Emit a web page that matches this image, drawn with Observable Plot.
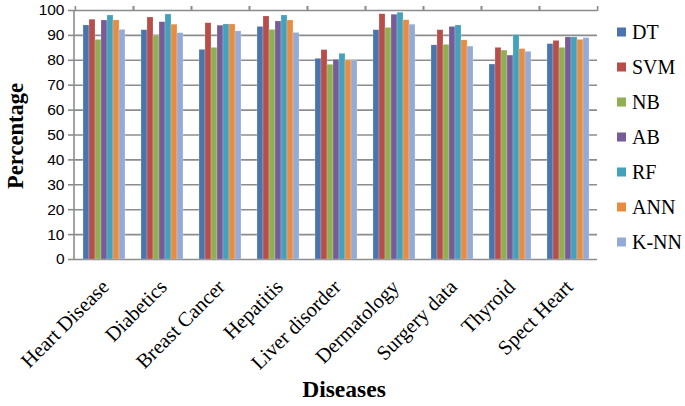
<!DOCTYPE html>
<html>
<head>
<meta charset="utf-8">
<script src="https://cdn.jsdelivr.net/npm/d3@7"></script>
<script src="https://cdn.jsdelivr.net/npm/@observablehq/plot@0.6"></script>
<style>
  html, body { margin: 0; padding: 0; background: #fff; }
  #wrap { position: relative; width: 685px; height: 406px; overflow: hidden; }
  #wrap svg { position: absolute; left: 0; top: 0; }
  .ytitle { position: absolute; left: 16px; top: 136px; transform: translate(-50%, -50%) rotate(-90deg);
            font: bold 22.5px "Liberation Serif", serif; white-space: nowrap; color: #000; }
  .xtitle { position: absolute; left: 344px; top: 389px; transform: translate(-50%, -50%);
            font: bold 23.5px "Liberation Serif", serif; white-space: nowrap; color: #000; }
  .legend { position: absolute; left: 617px; top: 0; font: 20px "Liberation Serif", serif; color: #000; }
  .legend .item { position: absolute; left: 0; display: flex; align-items: center; white-space: nowrap; transform: translateY(-50%); }
  .legend .sw { width: 9px; height: 9px; margin-right: 6px; }
</style>
</head>
<body>
<div id="wrap"></div>
<script>
const diseases = ["Heart Disease", "Diabetics", "Breast Cancer", "Hepatitis", "Liver disorder",
                  "Dermatology", "Surgery data", "Thyroid", "Spect Heart"];
const models = ["DT", "SVM", "NB", "AB", "RF", "ANN", "K-NN"];
const colors = ["#4A74AE", "#B84D4A", "#90AE52", "#775C99", "#42A1BB", "#E98B40", "#93ABD6"];

const dt  = [94.0, 92.1, 84.2, 93.4, 80.6, 92.1, 86.0, 78.3, 86.5];
const svm = [96.3, 97.2, 94.9, 97.6, 84.1, 98.5, 92.1, 85.0, 87.8];
const nb  = [88.2, 89.8, 85.0, 92.2, 78.2, 93.0, 86.2, 83.9, 85.0];
const ab  = [96.0, 95.3, 93.9, 95.6, 80.2, 98.3, 93.4, 81.9, 89.2];
const rf  = [98.0, 98.4, 94.4, 98.0, 82.6, 99.1, 94.0, 90.1, 89.2];
const ann = [96.0, 94.3, 94.4, 96.0, 79.9, 96.1, 88.0, 84.5, 88.2];
const knn = [92.2, 90.9, 91.6, 91.0, 79.9, 94.3, 85.5, 83.4, 88.9];
const yTicks = [0, 10, 20, 30, 40, 50, 60, 70, 80, 90, 100];

const series = [dt, svm, nb, ab, rf, ann, knn];
const data = [];
diseases.forEach((d, i) => models.forEach((m, j) => data.push({disease: d, model: m, value: series[j][i]})));

const W = 685, H = 406, mL = 74, mR = 87, mT = 10, mB = 147;
const step = (W - mL - mR) / diseases.length;
const grid = "#8c8c8c";

const chart = Plot.plot({
  width: W, height: H,
  marginLeft: mL, marginRight: mR, marginTop: mT, marginBottom: mB,
  style: {background: "transparent", overflow: "visible"},
  fx: {domain: diseases, padding: 0},
  x: {domain: models, paddingInner: 0, paddingOuter: 0.74, axis: null},
  y: {domain: [0, 100], axis: null},
  color: {domain: models, range: colors},
  marks: [
    Plot.ruleY(yTicks, {stroke: grid, strokeWidth: 1.6}),
    Plot.barY(data, {fx: "disease", x: "model", y: "value", fill: "model",
                     stroke: "#ffffff", strokeOpacity: 0.35, strokeWidth: 0.6}),
    Plot.axisY({ticks: yTicks, tickSize: 7, tickPadding: 4, stroke: grid, strokeWidth: 1.6,
                fontSize: 15.5, fontFamily: "Liberation Sans, sans-serif", fill: "#000", label: null}),
    Plot.axisFx({tickSize: 5, dx: -step / 2, text: null, stroke: grid, strokeWidth: 1.6, label: null}),
    Plot.axisFx({tickSize: 5, dx: step / 2, text: null, stroke: grid, strokeWidth: 1.6, label: null}),
    Plot.text(diseases, {fx: d => d, text: d => d, frameAnchor: "bottom", rotate: -45,
                         textAnchor: "end", lineAnchor: "middle", dx: 1, dy: 24,
                         fontSize: 20.5, fontFamily: "Liberation Serif, serif", fill: "#000"})
  ]
});

const wrap = document.getElementById("wrap");
wrap.appendChild(chart);

// vertical y-axis line along the left edge of the frame
const ys = chart.scale("y");
d3.select(chart).append("line")
  .attr("x1", mL).attr("x2", mL)
  .attr("y1", ys.apply(0)).attr("y2", ys.apply(100))
  .attr("stroke", grid).attr("stroke-width", 1.6);

const yt = document.createElement("div"); yt.className = "ytitle"; yt.textContent = "Percentage"; wrap.appendChild(yt);
const xt = document.createElement("div"); xt.className = "xtitle"; xt.textContent = "Diseases"; wrap.appendChild(xt);

const lg = document.createElement("div"); lg.className = "legend";
models.forEach((m, i) => {
  const it = document.createElement("div"); it.className = "item";
  it.style.top = (32 + i * 35) + "px";
  const sw = document.createElement("span"); sw.className = "sw"; sw.style.background = colors[i];
  const tx = document.createElement("span"); tx.textContent = m;
  it.appendChild(sw); it.appendChild(tx); lg.appendChild(it);
});
wrap.appendChild(lg);
</script>
</body>
</html>
